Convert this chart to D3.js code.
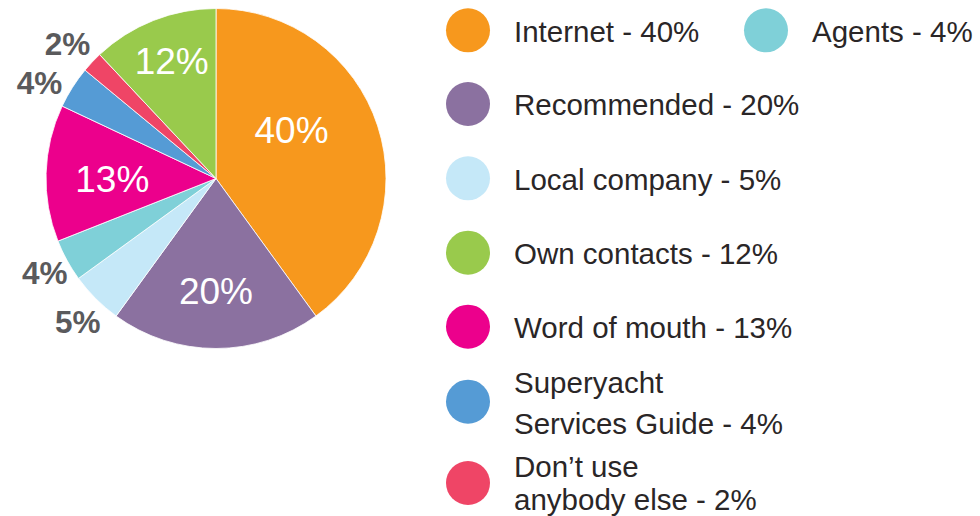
<!DOCTYPE html>
<html>
<head>
<meta charset="utf-8">
<script src="https://cdn.jsdelivr.net/npm/d3@7"></script>
<style>
  html, body { margin: 0; padding: 0; background: #fff; }
  svg { display: block; }
</style>
</head>
<body>
<svg id="chart" width="980" height="516"></svg>
<script>
// ---- data ----
const categories = ["Internet", "Recommended", "Local company", "Agents", "Word of mouth",
                    "Superyacht Services Guide", "Don\u2019t use anybody else", "Own contacts"];
const values = [40, 20, 5, 4, 13, 4, 2, 12];
const colors = ["#f7981d", "#8b71a0", "#c5e8f8", "#7fd0d8", "#ec008c", "#559bd5", "#ef4566", "#99ca4c"];
// legend text lines (as printed)
const legendLines = [
  ["Internet - 40%"], ["Recommended - 20%"], ["Local company - 5%"], ["Agents - 4%"],
  ["Word of mouth - 13%"], ["Superyacht", "Services Guide - 4%"], ["Don\u2019t use", "anybody else - 2%"],
  ["Own contacts - 12%"]
];
// legend display order (first column top->bottom); Agents sits beside Internet
const legendOrder = ["Internet", "Recommended", "Local company", "Own contacts", "Word of mouth",
                     "Superyacht Services Guide", "Don\u2019t use anybody else"];

// ---- layout ----
const svg = d3.select("#chart");
const cx = 216, cy = 178.5, R = 170;
// label placement: inside (white) or outside (grey), radius factor and angle tweak (deg)
const labelPlace = [
  {inside: true, r: 0.53, da: -15},
  {inside: true, r: 0.66, da: 0},
  {inside: false, r: 1.17, da: -1},
  {inside: false, r: 1.15, da: 0},
  {inside: true, r: 0.61, da: -2},
  {inside: false, r: 1.18, da: -4},
  {inside: false, r: 1.18, da: -1},
  {inside: true, r: 0.74, da: 1}
];

const pie = d3.pie().sort(null).value(d => d)(values);
const arc = d3.arc().innerRadius(0).outerRadius(R);

const g = svg.append("g").attr("transform", `translate(${cx},${cy})`);
g.selectAll("path").data(pie).join("path")
  .attr("d", arc)
  .attr("fill", (d, i) => colors[i])
  .attr("stroke", "#fff")
  .attr("stroke-width", 0.8);

g.selectAll("text.lbl").data(pie).join("text")
  .attr("class", "lbl")
  .each(function(d, i) {
    const p = labelPlace[i];
    const a = (d.startAngle + d.endAngle) / 2 + p.da * Math.PI / 180;
    const r = R * p.r;
    const x = r * Math.sin(a), y = -r * Math.cos(a);
    d3.select(this)
      .attr("x", x).attr("y", y)
      .attr("dy", "0.36em")
      .attr("text-anchor", "middle")
      .attr("font-family", "Liberation Sans, Arial, sans-serif")
      .attr("font-size", p.inside ? 37 : 31.5)
      .attr("font-weight", p.inside ? "normal" : "bold")
      .attr("fill", p.inside ? "#ffffff" : "#5a5a5c")
      .text(values[i] + "%");
  });

// ---- legend ----
const dotR = 22, textOff = 46;
const col1X = 468, col2X = 766;
const rowY = [30.3, 104, 178.3, 252.7, 326.7, 401.7, 483];
// baseline offsets (relative to dot centre) for each text line
const lineOffsets = {1: [11.3], 2: null};
const multiOffsets = {"Superyacht Services Guide": [-8.4, 32.3], "Don\u2019t use anybody else": [-6.3, 27]};
const legend = svg.append("g");
function addItem(name, x, y) {
  const i = categories.indexOf(name);
  legend.append("circle").attr("cx", x).attr("cy", y).attr("r", dotR).attr("fill", colors[i]);
  const lines = legendLines[i];
  const offs = lines.length > 1 ? multiOffsets[name] : lineOffsets[1];
  const t = legend.append("text")
    .attr("font-family", "Liberation Sans, Arial, sans-serif")
    .attr("font-size", 29.5)
    .attr("fill", "#2a2627");
  lines.forEach((s, k) => {
    t.append("tspan").attr("x", x + textOff).attr("y", y + offs[k]).text(s);
  });
}
legendOrder.forEach((n, k) => addItem(n, col1X, rowY[k]));
addItem("Agents", col2X, rowY[0]);
</script>
</body>
</html>
